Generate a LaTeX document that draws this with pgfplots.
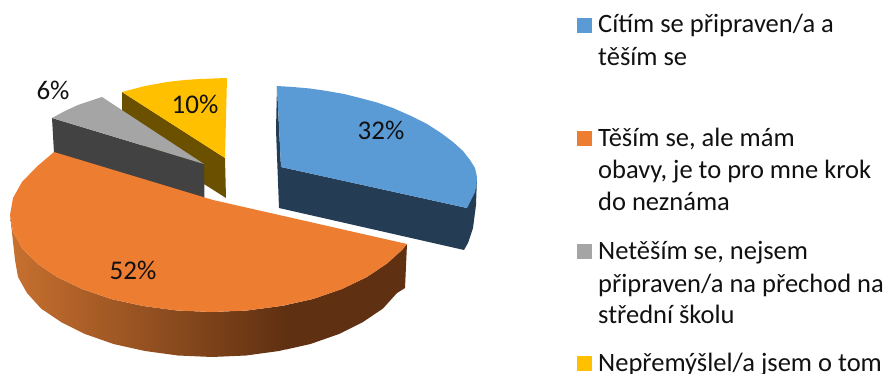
\documentclass[border=0pt]{standalone}
\usepackage{fontspec}
\setmainfont{Carlito}
\usepackage{pgfplots}
\pgfplotsset{compat=1.18}
\definecolor{cblue}{HTML}{5B9BD5}
\definecolor{cbluedark}{HTML}{243D55}
\definecolor{corange}{HTML}{ED7D31}
\definecolor{corangeside}{HTML}{C87030}
\definecolor{corangedark}{HTML}{5F3011}
\definecolor{cgray}{HTML}{A5A5A5}
\definecolor{cgraydark}{HTML}{424242}
\definecolor{cyellow}{HTML}{FFC000}
\definecolor{cyellowdark}{HTML}{6B5000}
\definecolor{ctext}{HTML}{111111}
\begin{document}
\begin{tikzpicture}[x=1pt,y=1pt]
\useasboundingbox (0,0) rectangle (889,374);
\clip (0,0) rectangle (889,374);
\begin{axis}[
  at={(0,0)},anchor=south west,
  scale only axis,width=889pt,height=374pt,
  xmin=0,xmax=889,ymin=0,ymax=374,y dir=reverse,
  axis lines=none,clip=false,
  every axis plot/.append style={mark=none,forget plot,draw=none},
]
% yellow side
\addplot[fill=cyellowdark] coordinates {(122,92)(225,158)(226,198)(122,132)} --cycle;
% gray side and top
\addplot[fill=cgraydark] coordinates {(52,118)(204,164)(204.5,198)(54,153)} --cycle;
\addplot[fill=cgray] coordinates {(52,118)(65,111)(78,105)(90,101)(102,97)(204,164)} --cycle;
% yellow top
\addplot[fill=cyellow] coordinates {(122,92)(145,86)(167,82)(185,80)(200,79)(227,78)(225,158)} --cycle;
% orange side: shaded part
\addplot[shade,left color=corangeside,right color=corangedark,draw=none] coordinates {
 (10,215)(13,232)(22,248)(37,263.5)(57,277)(82,289)(111,299)(143,306)(177,310.5)(212,312)(247,310.5)(281,306)(287,305)
 (287,349)(279,351)(246,355.5)(212,357)(178,355.5)(145,351)(113.5,344)(85,334)(61,322)(41,308.5)(27,293)(18,277)(15,260)} --cycle;
% orange side: dark part
\addplot[fill=corangedark] coordinates {
 (286,305)(313,299)(342,289)(367,277)(387,263.5)(402,250)(407,244)
 (405,288)(397,293)(383,308.5)(363,322)(339,334)(310.5,344)(286,349.5)} --cycle;
% orange top
\addplot[fill=corange] coordinates {
 (54,152)(37,166.5)(22,182)(13,198)(10,215)(13,232)(22,248)(37,263.5)(57,277)(82,289)(111,299)(143,306)(177,310.5)(212,312)
 (247,310.5)(281,306)(313,299)(342,289)(367,277)(387,263.5)(402,250)(407,244)(213,200)} --cycle;
% blue side
\addplot[fill=cbluedark] coordinates {
 (277,86)(276,130)(279,208)(464,250)(468,243)(473,228)(476,205)(477,177)(467,208)(281,167)} --cycle;
% blue top
\addplot[fill=cblue] coordinates {
 (277,86)(293,87)(310,88.5)(327,91)(344,94)(360,98)(377,102.5)(393,108)(410,115.5)(427,124)(441,133)(453,142)(463,151)(470,160)(475,168)(477,177)(476.5,185)(475,192)(471,200)(467,208)(281,167)} --cycle;
% data labels
\node[font=\fontsize{27}{27}\selectfont,text=ctext,inner sep=0pt] at (axis cs:53,90) {6\%};
\node[font=\fontsize{27}{27}\selectfont,text=ctext,inner sep=0pt] at (axis cs:195,104) {10\%};
\node[font=\fontsize{27}{27}\selectfont,text=ctext,inner sep=0pt] at (axis cs:381,130) {32\%};
\node[font=\fontsize{27}{27}\selectfont,text=ctext,inner sep=0pt] at (axis cs:133,270) {52\%};
% legend keys
\addplot[fill=cblue] coordinates {(577,18)(592,18)(592,33)(577,33)} --cycle;
\addplot[fill=corange] coordinates {(577,131)(592,131)(592,146)(577,146)} --cycle;
\addplot[fill=cgray] coordinates {(577,244)(592,244)(592,259)(577,259)} --cycle;
\addplot[fill=cyellow] coordinates {(577,356)(592,356)(592,371)(577,371)} --cycle;
% legend text
\tikzset{lg/.style={anchor=base west,inner sep=0pt,text=ctext,font=\fontsize{26.5}{26.5}\selectfont}}
\node[lg] at (axis cs:598,33) {Cítím se připraven/a a};
\node[lg] at (axis cs:598,66) {těším se};
\node[lg] at (axis cs:598,147) {Těším se, ale mám};
\node[lg] at (axis cs:598,179) {obavy, je to pro mne krok};
\node[lg] at (axis cs:598,211) {do neznáma};
\node[lg] at (axis cs:598,259) {Netěším se, nejsem};
\node[lg] at (axis cs:598,292) {připraven/a na přechod na};
\node[lg] at (axis cs:598,323) {střední školu};
\node[lg] at (axis cs:598,371) {Nepřemýšlel/a jsem o tom};
\end{axis}
\end{tikzpicture}
\end{document}
